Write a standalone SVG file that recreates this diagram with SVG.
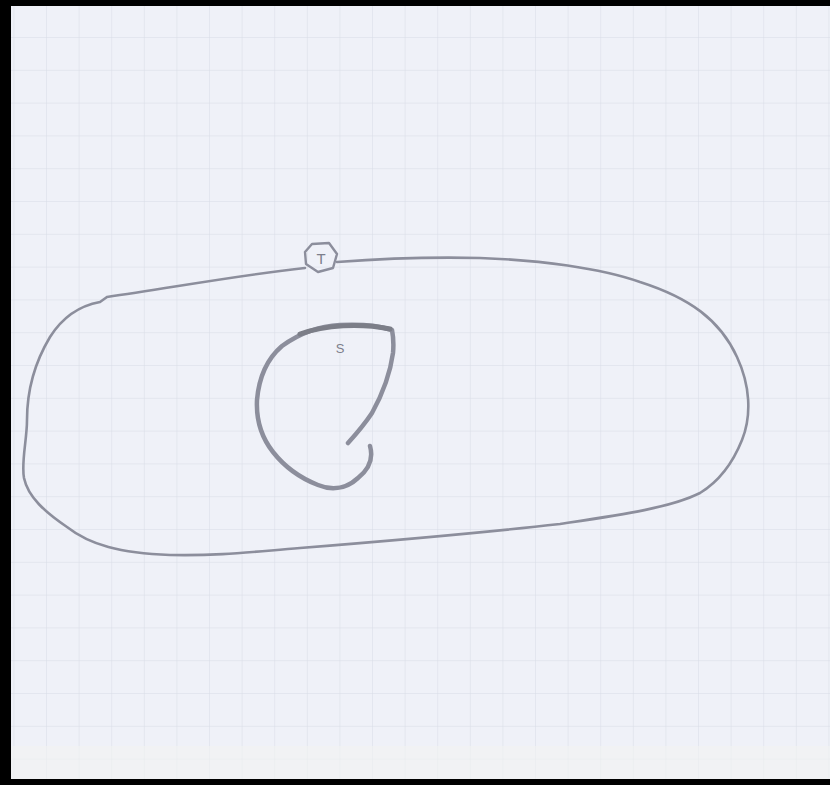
<svg xmlns="http://www.w3.org/2000/svg" width="830" height="785" viewBox="0 0 830 785">
  <defs>
    <pattern id="grid" x="14.4" y="5.2" width="32.6" height="32.8" patternUnits="userSpaceOnUse">
      <path d="M32.6 0 V32.8 M0 32.8 H32.6" fill="none" stroke="#d8dce6" stroke-width="1"/>
    </pattern>
    <style>
      .pencil { fill: none; stroke: #8c8e9c; stroke-linecap: round; stroke-linejoin: round; }
      .label { font-family: "Liberation Sans", Arial, sans-serif; fill: #7d7f8c; text-anchor: middle; }
    </style>
  </defs>
  <rect x="0" y="0" width="830" height="785" fill="#eff1f8"/>
  <rect x="0" y="0" width="830" height="785" fill="url(#grid)"/>
  <rect x="11" y="746" width="819" height="34" fill="#f2f3f2" opacity="0.6"/>
  <!-- black photo borders -->
  <rect x="0" y="0" width="830" height="6" fill="#000"/>
  <rect x="0" y="0" width="11" height="785" fill="#000"/>
  <rect x="0" y="779" width="830" height="6" fill="#000"/>

  <g id="outer">
    <path class="pencil" stroke-width="2.6" d="M107 297 C170 288 240 275 305 268 M337 262 C390 258 440 257 480 258 C540 260 600 268 640 282 C690 298 720 320 737 357 C750 385 752 415 742 440 C732 465 718 482 700 493 C670 508 620 515 560 524 C480 533 400 540 300 548 C250 552 220 556 170 555 C120 553 90 545 67 527 C45 512 28 497 24 478 C21 462 27 440 27 420 C27 392 35 362 50 337 C62 318 78 306 100 302 L107 297"/>
  </g>

  <g id="node-T">
    <path class="pencil" stroke-width="2.4" d="M312 244 L329 243 L337 254 L333 268 L318 272 L306 264 L305 252 Z"/>
    <text class="label" x="321" y="264" font-size="15">T</text>
  </g>

  <g id="node-S">
    <path class="pencil" stroke="#85878f" stroke-width="4.5" d="M348 443 C358 432 366 422 372 413 C382 395 390 375 393 353 C394 342 393 335 392 330 C380 326 360 324 340 325 C320 326 300 333 282 346 C268 358 259 377 257 400 C256 420 262 438 273 452 C284 466 300 478 318 485 C330 490 345 490 358 478 C368 470 374 460 370 446"/>
    <path fill="none" stroke="#7c7e88" stroke-width="5" stroke-linecap="round" d="M300 334 C325 325 360 323 390 329"/>
    <text class="label" x="340" y="353" font-size="13">S</text>
  </g>
</svg>
